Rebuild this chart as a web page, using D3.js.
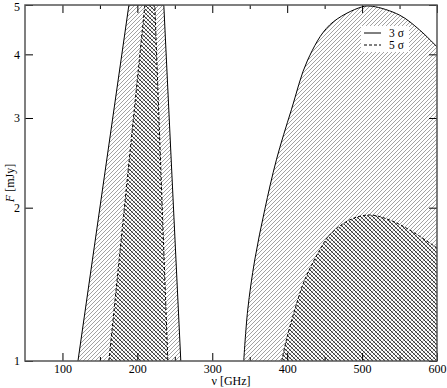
<!DOCTYPE html>
<html><head><meta charset="utf-8">
<script src="https://cdn.jsdelivr.net/npm/d3@7"></script>
<style>body{margin:0;background:#fff}svg{display:block}svg text{font-family:"Liberation Serif","Times New Roman",Times,serif !important}</style>
</head><body><svg id="c" width="447" height="388"></svg>
<script>
// ---- data ----
const xMajorTicks = [100, 200, 300, 400, 500, 600];
const xMinorTicks = [150, 250, 350, 450, 550];
const yTicks = [1, 2, 3, 4, 5];
// left wedge: frequency of the left/right edges at F=1 and F=5
const wedge3Sigma = [[120.7, 1], [188.7, 5], [235.3, 5], [258, 1]];
const wedge5Sigma = [[162, 1], [210, 5], [223.3, 5], [240.7, 1]];
// right dome boundary (nu [GHz], F [mJy])
const dome3SigmaNu = [342, 347.3, 356.7, 370, 385.6, 405.6, 427.3, 456.7, 499.3, 514, 550, 576.7, 600];
const dome3SigmaF  = [1, 1.259, 1.579, 1.98, 2.483, 3.113, 3.898, 4.568, 4.955, 4.97, 4.777, 4.468, 4.138];
const dome5SigmaNu = [392.7, 398.9, 410, 423.3, 443.3, 456.7, 483.3, 510, 536.7, 563.3, 600];
const dome5SigmaF  = [1, 1.0996, 1.259, 1.442, 1.651, 1.768, 1.892, 1.935, 1.892, 1.809, 1.667];
const legendItems = [{label: "3 σ", dash: null}, {label: "5 σ", dash: "3,2"}];

// ---- chart ----
const svg = d3.select("#c");
const L = 25, R = 437, T = 5, B = 361;
const x = d3.scaleLinear().domain([50, 600]).range([L, R]);
const y = d3.scaleLog().domain([1, 5]).range([B, T]);
const FONT = '"Liberation Serif","Times New Roman",Times,serif';

const defs = svg.append("defs");
defs.append("clipPath").attr("id", "clip").append("rect")
  .attr("x", L).attr("y", T).attr("width", R - L).attr("height", B - T);
const S = 4;
const p1 = defs.append("pattern").attr("id", "h1").attr("patternUnits", "userSpaceOnUse")
  .attr("width", S).attr("height", S);
p1.append("rect").attr("width", S).attr("height", S).attr("fill", "#fff");
p1.append("path").attr("d", `M-1,1 l2,-2 M0,${S} l${S},-${S} M${S-1},${S+1} l2,-2`)
  .attr("stroke", "#444").attr("stroke-width", 0.5);
const p2 = defs.append("pattern").attr("id", "h2").attr("patternUnits", "userSpaceOnUse")
  .attr("width", S).attr("height", S);
p2.append("path").attr("d", `M-1,${S-1} l2,2 M0,0 l${S},${S} M${S-1},-1 l2,2`)
  .attr("stroke", "#000").attr("stroke-width", 0.8);

const g = svg.append("g").attr("clip-path", "url(#clip)");

const poly = d3.line().x(d => x(d[0])).y(d => y(d[1]));
const domeLine = d3.line().x(d => x(d[0])).y(d => y(d[1])).curve(d3.curveCatmullRom);

function domePath(nu, F) {
  const pts = nu.map((v, i) => [v, F[i]]);
  return domeLine(pts) + "L" + x(nu[nu.length - 1]) + "," + y(1) + "Z";
}
const d3pts = dome3SigmaNu.map((v, i) => [v, dome3SigmaF[i]]);
const d5pts = dome5SigmaNu.map((v, i) => [v, dome5SigmaF[i]]);

// 3 sigma
g.append("path").attr("d", poly(wedge3Sigma) + "Z").attr("fill", "url(#h1)");
g.append("path").attr("d", domePath(dome3SigmaNu, dome3SigmaF)).attr("fill", "url(#h1)");
// 5 sigma
g.append("path").attr("d", poly(wedge5Sigma) + "Z").attr("fill", "url(#h2)");
g.append("path").attr("d", domePath(dome5SigmaNu, dome5SigmaF)).attr("fill", "url(#h2)");
// outlines
g.append("path").attr("d", poly(wedge3Sigma)).attr("fill", "none").attr("stroke", "#000").attr("stroke-width", 1);
g.append("path").attr("d", domeLine(d3pts)).attr("fill", "none").attr("stroke", "#000").attr("stroke-width", 1);
g.append("path").attr("d", poly(wedge5Sigma)).attr("fill", "none").attr("stroke", "#000").attr("stroke-width", 1).attr("stroke-dasharray", "3,2");
g.append("path").attr("d", domeLine(d5pts)).attr("fill", "none").attr("stroke", "#000").attr("stroke-width", 1).attr("stroke-dasharray", "3,2");

// legend
const lg = svg.append("g");
lg.append("rect").attr("x", 361).attr("y", 26).attr("width", 48).attr("height", 26).attr("fill", "#fff");
legendItems.forEach((it, i) => {
  const yy = 33 + i * 12;
  lg.append("line").attr("x1", 364).attr("x2", 381).attr("y1", yy).attr("y2", yy)
    .attr("stroke", "#000").attr("stroke-width", 1).attr("stroke-dasharray", it.dash);
  lg.append("text").attr("x", 389).attr("y", yy + 4).attr("font-size", 11.5).attr("font-family", FONT).text(it.label);
});

// axes
function styleAxis(sel) {
  sel.attr("font-family", FONT);
  sel.select(".domain").remove();
  sel.selectAll(".tick line").attr("stroke", "#000");
  sel.selectAll("text").attr("font-size", 12).attr("fill", "#000").attr("font-family", FONT);
}
svg.append("g").attr("transform", `translate(0,${B})`)
  .call(d3.axisBottom(x).tickValues(xMajorTicks).tickSize(-8).tickPadding(3).tickFormat(d3.format("d"))).call(styleAxis);
svg.append("g").attr("transform", `translate(0,${B})`)
  .call(d3.axisBottom(x).tickValues(xMinorTicks).tickSize(-4).tickFormat("")).call(styleAxis);
svg.append("g").attr("transform", `translate(0,${T})`)
  .call(d3.axisTop(x).tickValues(xMajorTicks).tickSize(-8).tickFormat("")).call(styleAxis);
svg.append("g").attr("transform", `translate(0,${T})`)
  .call(d3.axisTop(x).tickValues(xMinorTicks).tickSize(-4).tickFormat("")).call(styleAxis);
const yAxisG = svg.append("g").attr("transform", `translate(${L},0)`)
  .call(d3.axisLeft(y).tickValues(yTicks).tickSize(-8).tickPadding(5).tickFormat(d3.format("d"))).call(styleAxis);
// keep the top label fully inside the picture
yAxisG.selectAll(".tick text").filter(d => d === 5).attr("dy", "0.42em");
svg.append("g").attr("transform", `translate(${R},0)`)
  .call(d3.axisRight(y).tickValues(yTicks).tickSize(-8).tickFormat("")).call(styleAxis);

// frame
svg.append("rect").attr("x", L).attr("y", T).attr("width", R - L).attr("height", B - T)
  .attr("fill", "none").attr("stroke", "#555").attr("stroke-width", 1.5);

// axis titles
svg.append("text").attr("x", (L + R) / 2).attr("y", 385).attr("text-anchor", "middle")
  .attr("font-size", 12).attr("font-family", FONT).text("ν [GHz]");
const yt = svg.append("text").attr("transform", "translate(14,183) rotate(-90)")
  .attr("text-anchor", "middle").attr("font-size", 12).attr("font-family", FONT);
yt.append("tspan").attr("font-style", "italic").text("F");
yt.append("tspan").text(" [mJy]");
</script></body></html>
